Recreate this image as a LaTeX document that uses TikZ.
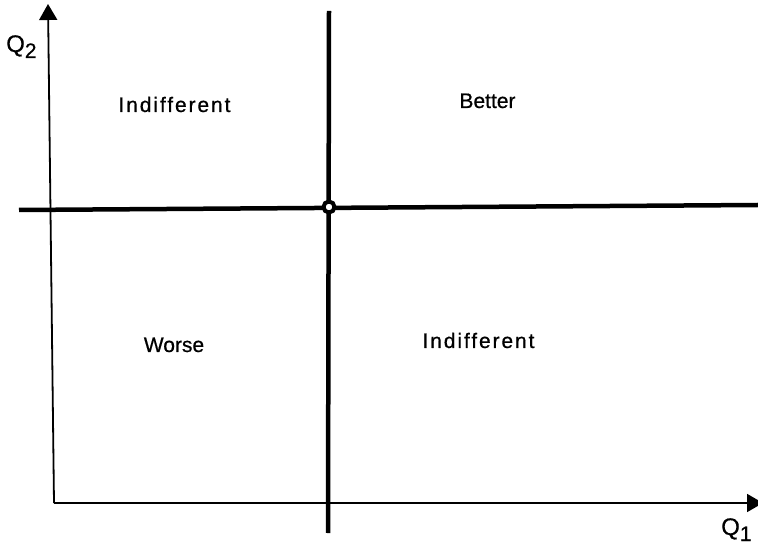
\documentclass[tikz,border=0pt]{standalone}
\usepackage{fontspec}
\setmainfont{Liberation Sans}[FakeBold=0.6]
\usetikzlibrary{arrows.meta}
\newcommand{\qsub}[1]{\raisebox{-6pt}{\fontsize{21}{24}\selectfont #1}}
\begin{document}
\begin{tikzpicture}[x=1pt,y=-1pt,
  axis/.style={line width=1.8pt,-{Triangle[length=16pt,width=18pt]}},
  thickline/.style={line width=4.5pt},
  region/.style={font=\fontsize{21}{25}\selectfont,anchor=base,inner sep=0pt},
  spaced/.style={font=\fontsize{21}{25}\selectfont\addfontfeature{LetterSpace=9}},
  axlabel/.style={font=\fontsize{24}{28}\selectfont,inner sep=0pt,anchor=base west}]
\useasboundingbox (0,0) rectangle (758,545);
\coordinate (O) at (54,503);
\coordinate (ytip) at (48,4);
\coordinate (xtip) at (763,503);
\draw[axis] (O) -- (ytip);
\draw[axis] (O) -- (xtip);
\coordinate (vtop) at (329,11);
\coordinate (vbot) at (328,533);
\coordinate (hl) at (19,210);
\coordinate (hr) at (758,205);
\draw[thickline] (vtop) -- (vbot);
\draw[thickline] (hl) -- (hr);
\node[circle,draw,fill=white,line width=4pt,minimum size=11pt,inner sep=0pt] (c) at (329,207) {};
\node[axlabel] (q2) at (6,52) {Q\qsub{2}};
\node[axlabel] (q1) at (721,535) {Q\qsub{1}};
\node[region,spaced] (ind1) at (174.5,112) {Indifferent};
\node[region] (bet) at (487.5,108) {Better};
\node[region] (wor) at (174,352) {Worse};
\node[region,spaced] (ind2) at (478.5,348) {Indifferent};
\end{tikzpicture}
\end{document}
